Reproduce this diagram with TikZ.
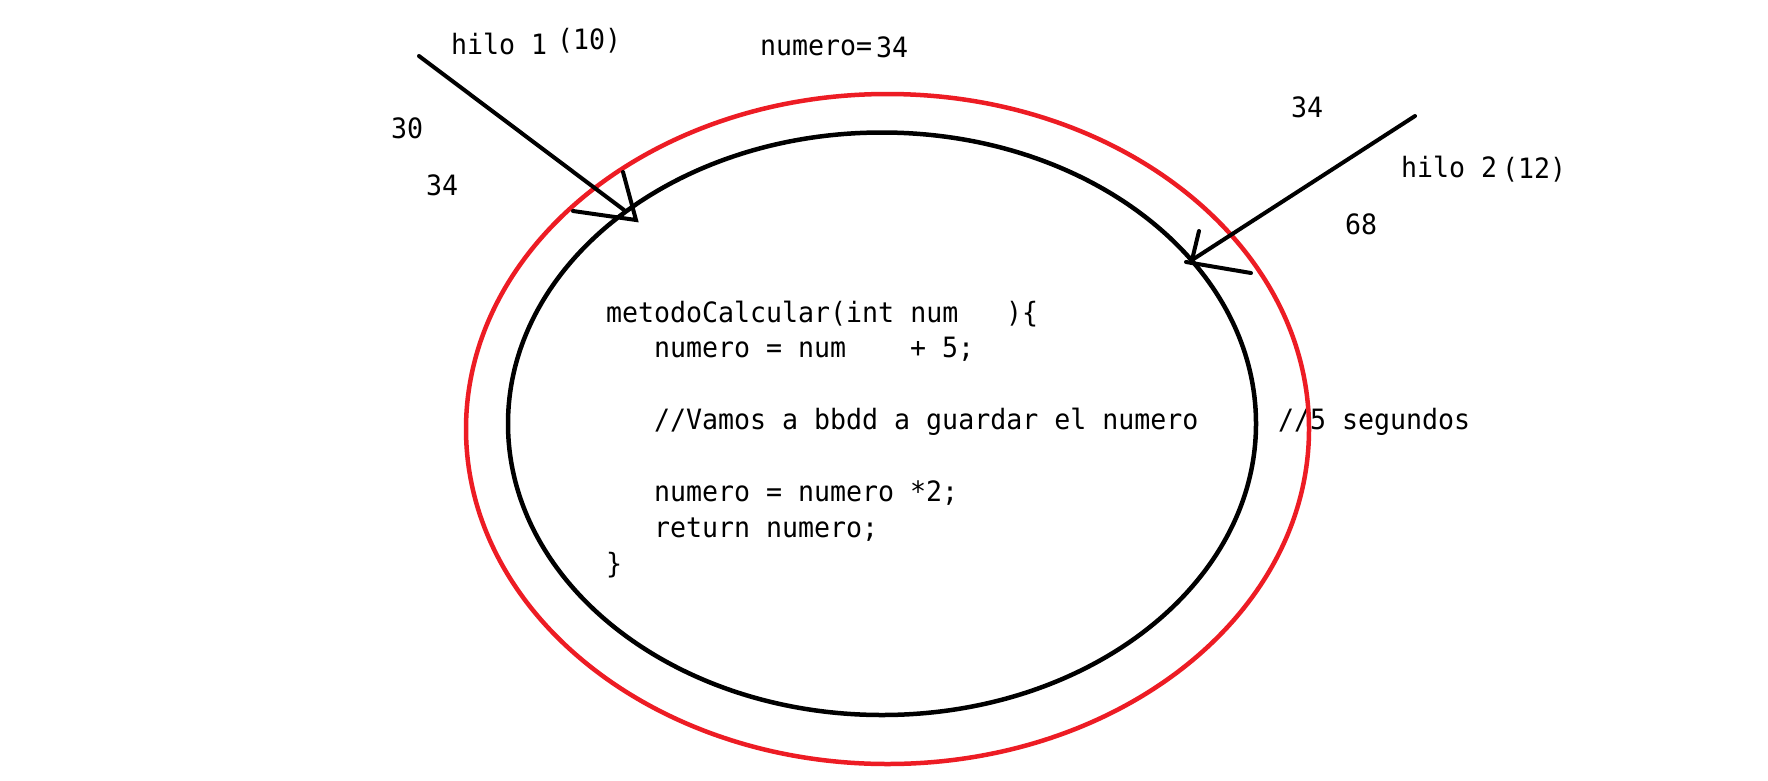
\documentclass[tikz,border=0pt]{standalone}
\usepackage{fontspec}
\newfontfamily\paintfont{DejaVu Sans Mono}[FakeStretch=0.95]
\definecolor{paintred}{RGB}{237,28,36}
\begin{document}
\begin{tikzpicture}[x=1pt,y=-1pt,
  txt/.style={anchor=base west, inner sep=0pt, outer sep=0pt, text=black, font=\paintfont\fontsize{28}{36}\selectfont},
  blackring/.style={line width=4.5pt, black},
  redring/.style={line width=4.5pt, paintred},
  stroke/.style={line width=4pt, line cap=round, black}]
\fill[white] (0,0) rectangle (1768,780);
\useasboundingbox (0,0) rectangle (1768,780);

% code
\node[txt] (c1a) at (606,322) {metodoCalcular(int num};
\node[txt] (c1b) at (1006,322) {)\{};
\node[txt] (c2a) at (654,357) {numero = num};
\node[txt] (c2b) at (910,357) {+ 5;};
\node[txt] (c3a) at (654,429) {//Vamos a bbdd a guardar el numero};
\node[txt] (c3b) at (1278,429) {//5 segundos};
\node[txt] (c4) at (654,501) {numero = numero *2;};
\node[txt] (c5) at (654,537) {return numero;};
\node[txt] (c6) at (606,573) {\}};

% labels
\node[txt] (h1) at (451,54) {hilo 1};
\node[txt] (h1n) at (557,49) {(10)};
\node[txt] (num) at (760,55) {numero=};
\node[txt] (numv) at (876,57) {34};
\node[txt] (l30) at (391,138) {30};
\node[txt] (l34a) at (426,195) {34};
\node[txt] (l34b) at (1291,117) {34};
\node[txt] (h2) at (1401,177) {hilo 2};
\node[txt] (h2n) at (1502,178) {(12)};
\node[txt] (l68) at (1345,234) {68};

% rings
\draw[redring] (887.5,429) ellipse [x radius=421.5pt, y radius=335pt];
\draw[blackring] (882,423.75) ellipse [x radius=374pt, y radius=291.25pt];

% arrow 1
\coordinate (a1s) at (419,56);
\coordinate (a1e) at (624,210);
\coordinate (a1t) at (636,220);
\coordinate (a1b1) at (623,172);
\coordinate (a1b2) at (573,211);
\draw[stroke] (a1s) -- (a1e);
\draw[stroke] (a1b1) -- (a1t) -- (a1b2);

% arrow 2
\coordinate (a2s) at (1415,116);
\coordinate (a2e) at (1192,260);
\coordinate (a2t) at (1186,262);
\coordinate (a2b1) at (1199,231);
\coordinate (a2b2) at (1251,273);
\draw[stroke] (a2s) -- (a2e);
\draw[stroke] (a2b1) -- (a2e);
\draw[stroke] (a2t) -- (a2b2);
\end{tikzpicture}
\end{document}
